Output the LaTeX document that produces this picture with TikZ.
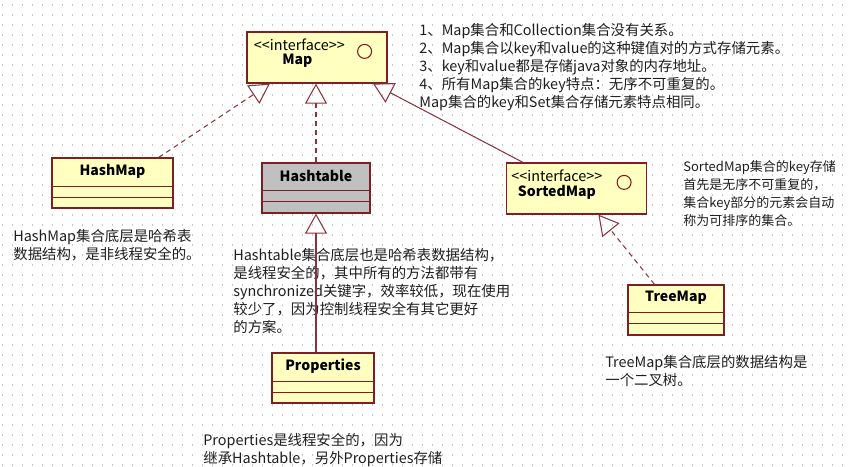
\documentclass[tikz,border=0pt]{standalone}
\usepackage{fontspec}
\setmainfont{Noto Sans CJK SC}
\usepackage{xcolor}
\usepackage{tikz}
\usetikzlibrary{arrows.meta, positioning}

\definecolor{umlred}{RGB}{128,30,40}
\definecolor{umlline}{RGB}{140,50,60}
\definecolor{umlfill}{RGB}{255,255,192}
\definecolor{umlgrey}{RGB}{192,192,192}
\definecolor{notetext}{RGB}{30,30,30}
\definecolor{griddot}{RGB}{200,200,200}

\tikzset{
  classbox/.style={draw=umlred, line width=0.7pt, fill=umlfill, inner sep=0pt},
  compline/.style={draw=umlred, line width=0.7pt},
  classname/.style={font=\fontsize{8}{10}\selectfont\bfseries, inner sep=0pt},
  stereo/.style={font=\fontsize{8.2}{10}\selectfont, inner sep=0pt},
  ifdot/.style={draw=umlred, line width=0.6pt, circle, minimum size=0.28cm, inner sep=0pt},
  note/.style={anchor=north west, align=left, inner sep=0pt, text=notetext,
    font=\fontsize{8.2}{10.24}\selectfont},
  inherit/.style={draw=umlline, line width=0.6pt,
    -{Triangle[open, length=0.4cm, width=0.44cm]}},
  realize/.style={inherit, dash pattern=on 0.1cm off 0.08cm},
}

\begin{document}
\begin{tikzpicture}[x=0.02cm, y=-0.02cm]
			\useasboundingbox (0,0) rectangle (850,467);
			% Background grid:
			\foreach \gy in {5,15,...,465}
				\draw[griddot, line width=0.03cm, dash pattern=on 0.03cm off 0.17cm] (2,\gy) -- (850,\gy);

			% Classes and interfaces:
			\node[classbox, minimum width=2.8cm, minimum height=1.02cm] (map) at (317,57.5){};
			\node[stereo] (mapstereo) at ([xshift=1.06cm, yshift=-0.26cm]map.north west){<\kern0pt<interface>\kern0pt>};
			\node[classname] (mapname) at ([xshift=1.02cm, yshift=-0.58cm]map.north west){Map};
			\node[ifdot] (mapdot) at ([xshift=-0.46cm, yshift=-0.4cm]map.north east){};

			\node[classbox, minimum width=2.8cm, minimum height=1.02cm] (sortedmap) at (576.5,188.5){};
			\node[stereo] (sortedstereo) at ([xshift=1.02cm, yshift=-0.26cm]sortedmap.north west){<\kern0pt<interface>\kern0pt>};
			\node[classname] (sortedname) at ([xshift=1.02cm, yshift=-0.6cm]sortedmap.north west){SortedMap};
			\node[ifdot] (sorteddot) at ([xshift=-0.46cm, yshift=-0.4cm]sortedmap.north east){};

			\node[classbox, minimum width=2.42cm, minimum height=1cm] (hashmap) at (112.5,183){};
			\node[classname] (hashmapname) at ([yshift=-0.27cm]hashmap.north){HashMap};
			\draw[compline] ([yshift=0.44cm]hashmap.south west) -- ([yshift=0.44cm]hashmap.south east);
			\draw[compline] ([yshift=0.22cm]hashmap.south west) -- ([yshift=0.22cm]hashmap.south east);

			\node[classbox, fill=umlgrey, minimum width=2.16cm, minimum height=1cm] (hashtable) at (316,188){};
			\node[classname] (hashtablename) at ([yshift=-0.27cm]hashtable.north){Hashtable};
			\draw[compline] ([yshift=0.46cm]hashtable.south west) -- ([yshift=0.46cm]hashtable.south east);
			\draw[compline] ([yshift=0.24cm]hashtable.south west) -- ([yshift=0.24cm]hashtable.south east);

			\node[classbox, minimum width=1.92cm, minimum height=1cm] (treemap) at (676,310){};
			\node[classname] (treemapname) at ([yshift=-0.27cm]treemap.north){TreeMap};
			\draw[compline] ([yshift=0.46cm]treemap.south west) -- ([yshift=0.46cm]treemap.south east);
			\draw[compline] ([yshift=0.24cm]treemap.south west) -- ([yshift=0.24cm]treemap.south east);

			\node[classbox, minimum width=2.04cm, minimum height=1cm] (properties) at (323,378){};
			\node[classname] (propertiesname) at ([yshift=-0.27cm]properties.north){Properties};
			\draw[compline] ([yshift=0.44cm]properties.south west) -- ([yshift=0.44cm]properties.south east);
			\draw[compline] ([yshift=0.22cm]properties.south west) -- ([yshift=0.22cm]properties.south east);

			% Notes:
			\node[note] (mapnote) at (419,23){1、Map集合和Collection集合没有关系。\\
				2、Map集合以key和value的这种键值对的方式存储元素。\\
				3、key和value都是存储java对象的内存地址。\\
				4、所有Map集合的key特点：无序不可重复的。\\
				Map集合的key和Set集合存储元素特点相同。};
			\node[note] (hashmapnote) at (13,229){HashMap集合底层是哈希表\\数据结构，是非线程安全的。};
			\node[note] (hashtablenote) at (233,248){Hashtable集合底层也是哈希表数据结构，\\
				是线程安全的，其中所有的方法都带有\\
				synchronized关键字，效率较低，现在使用\\
				较少了，因为控制线程安全有其它更好\\
				的方案。};
			\node[note, font=\fontsize{7.4}{10.24}\selectfont] (sortednote) at (683,160){SortedMap集合的key存储\\
				首先是无序不可重复的，\\
				集合key部分的元素会自动\\
				称为可排序的集合。};
			\node[note] (treemapnote) at (605,355){TreeMap集合底层的数据结构是\\一个二叉树。};
			\node[note] (propertiesnote) at (203,433){Properties是线程安全的，因为\\继承Hashtable，另外Properties存储};

			% Inheritance and realization:
			\draw[realize] (hashmap.29) -- (map.209);
			\draw[realize] (hashtable.north) -- (hashtable.north |- map.south);
			\draw[inherit] (sortedmap.154) -- (map.-25);
			\draw[realize] (treemap.130) -- (sortedmap.-50);
			\draw[inherit] (hashtable.south |- properties.north) -- (hashtable.south);
		\end{tikzpicture}
\end{document}
